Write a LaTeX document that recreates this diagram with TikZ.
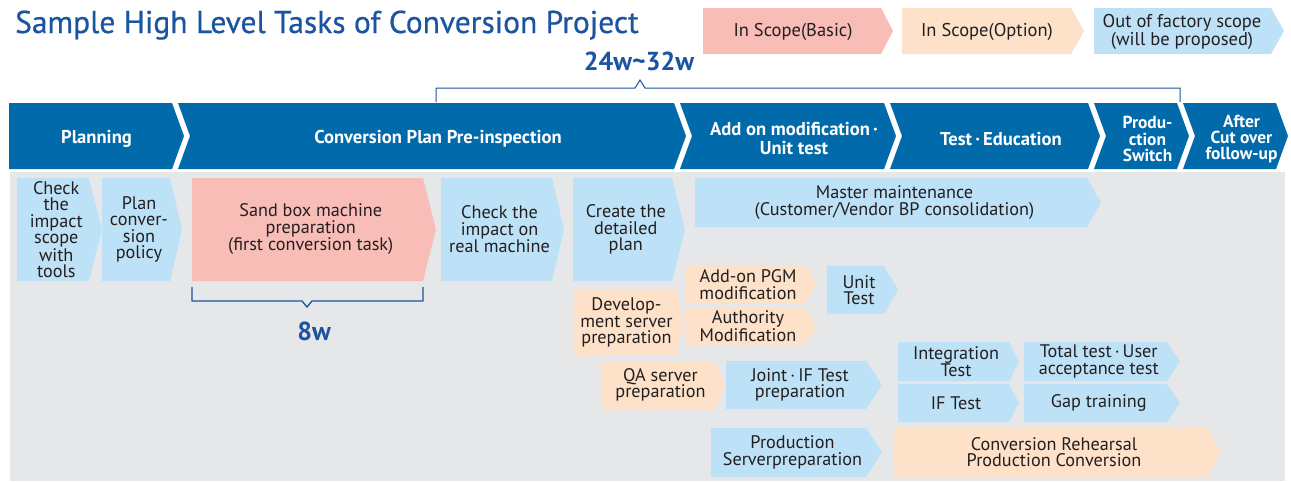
\documentclass[tikz,border=0pt]{standalone}
\usepackage{fontspec}
\setmainfont{PT Sans}
\newfontfamily\titlefont[FakeBold=0.6]{PT Sans}
\definecolor{titleblue}{RGB}{27,84,160}
\definecolor{barblue}{RGB}{0,106,170}
\definecolor{bggray}{RGB}{230,231,233}
\definecolor{lblue}{RGB}{189,225,246}
\definecolor{lpink}{RGB}{248,189,183}
\definecolor{lpeach}{RGB}{253,225,201}
\definecolor{txt}{RGB}{35,31,32}
\newcommand\taskbox[8]{%
  \fill[#2] (#3,#4) -- (#5,#4) -- (#7,{(#4+#6)/2}) -- (#5,#6) -- (#3,#6) -- cycle;
  \node[tasktext] (#1) at ({(#3+(#5+#7)/2)/2},{(#4+#6)/2}) {#8};
}
\newcommand\phaseseg[7]{% name, left, right, tip, notch(0/1), style, text
  \fill[barblue] (#2,103) -- (#3,103) -- (#4,136) -- (#3,169) -- (#2,169)
     \ifnum#5=1 -- ({#2+12},136)\fi -- cycle;
  \node[phasetext,#6] (#1) at ({(#2+#4)/2+(#5*6)},139) {#7};
}
\begin{document}
\begin{tikzpicture}[x=1pt,y=-1pt,
  tasktext/.style={align=center,font=\fontsize{18.2}{16.4}\selectfont,text=txt,inner sep=0pt},
  phasetext/.style={align=center,font=\bfseries\fontsize{18.6}{19}\selectfont,text=white,inner sep=0pt},
  phasesmall/.style={font=\bfseries\fontsize{17.4}{16.4}\selectfont},
  legtext/.style={align=center,font=\fontsize{18.5}{18}\selectfont,text=txt,inner sep=0pt},
  weektext/.style={font=\bfseries\fontsize{26}{26}\selectfont,text=titleblue,inner sep=0pt},
  bracket/.style={draw=titleblue,line width=1.3pt}]
\useasboundingbox (0,0) rectangle (1291,482);
\fill[white] (0,0) rectangle (1291,482);
% title
\node[anchor=base west,font=\titlefont\fontsize{31.5}{32}\selectfont,text=titleblue,inner sep=0pt] (title) at (15,33) {Sample High Level Tasks of Conversion Project};
% legend
\fill[lpink] (703,8) -- (881,8) -- (893,31) -- (881,54) -- (703,54) -- cycle;
\node[legtext] (legbasic) at (793,32) {In Scope(Basic)};
\fill[lpeach] (902,8) -- (1071,8) -- (1084,31) -- (1071,54) -- (902,54) -- cycle;
\node[legtext] (legoption) at (987,32) {In Scope(Option)};
\fill[lblue] (1094,8) -- (1271,8) -- (1284,31) -- (1271,54) -- (1094,54) -- cycle;
\node[legtext] (legout) at (1182,32) {Out of factory scope\\(will be proposed)};
% 24w bracket
\node[weektext] (w24) at (639,61) {24w\textasciitilde32w};
\draw[bracket,line width=1pt] (436,102) -- (436,88) -- (635,88) -- (640,80) -- (645,88) -- (1180,88) -- (1180,102);
% phase bar
\phaseseg{ph1}{9}{172}{184}{0}{}{Planning}
\phaseseg{ph2}{178}{674}{686}{1}{}{Conversion Plan Pre-inspection}
\phaseseg{ph3}{680}{884}{896}{1}{}{Add on modification\,·\\Unit test}
\phaseseg{ph4}{890}{1088}{1100}{1}{}{Test\,·\,Education}
\phaseseg{ph5}{1094}{1177}{1189}{1}{phasesmall}{Produ-\\ction\\Switch}
\phaseseg{ph6}{1183}{1276}{1288}{1}{phasesmall}{After\\Cut over\\follow-up}
% background
\fill[bggray] (10,172) rectangle (1285,481);
% tasks
\taskbox{t1}{lblue}{17}{178}{89}{281}{102}{Check\\the\\impact\\scope\\with\\tools}
\taskbox{t2}{lblue}{102}{178}{170}{281}{182}{Plan\\conver-\\sion\\policy}
\taskbox{t3}{lpink}{192}{178}{423}{281}{436}{Sand box machine\\preparation\\(first conversion task)}
\taskbox{t4}{lblue}{441}{178}{552}{281}{564}{Check the\\impact on\\real machine}
\taskbox{t5}{lblue}{573}{178}{672}{281}{685}{Create the\\detailed\\plan}
\taskbox{t6}{lblue}{695}{178}{1087}{227}{1101}{Master maintenance\\(Customer/Vendor BP consolidation)}
\taskbox{t7}{lpeach}{573}{289}{676}{356}{684}{Develop-\\ment server\\preparation}
\taskbox{t8}{lpeach}{685}{266}{805}{303}{817}{Add-on PGM\\modification}
\taskbox{t9}{lpeach}{685}{307}{805}{345}{817}{Authority\\Modification}
\taskbox{t10}{lblue}{827}{266}{884}{314}{898}{Unit\\Test}
\taskbox{t11}{lpeach}{601}{361}{715}{409}{725}{QA server\\preparation}
\taskbox{t12}{lblue}{726}{361}{866}{409}{882}{Joint\,·\,IF Test\\preparation}
\taskbox{t13}{lblue}{898}{342}{1009}{381}{1019}{Integration\\Test}
\taskbox{t14}{lblue}{1024}{342}{1167}{381}{1180}{Total test\,·\,User\\acceptance test}
\taskbox{t15}{lblue}{898}{384}{1009}{422}{1019}{IF Test}
\taskbox{t16}{lblue}{1024}{384}{1167}{422}{1180}{Gap training}
\taskbox{t17}{lblue}{711}{428}{866}{477}{882}{Production\\Serverpreparation}
\taskbox{t18}{lpeach}{894}{427}{1207}{477}{1221}{Conversion Rehearsal\\Production Conversion}
% 8w bracket
\draw[bracket] (192,287) -- (192,301) -- (302,301) -- (307,307) -- (312,301) -- (423,301) -- (423,287);
\node[weektext] (w8) at (314,331) {8w};
\end{tikzpicture}
\end{document}
